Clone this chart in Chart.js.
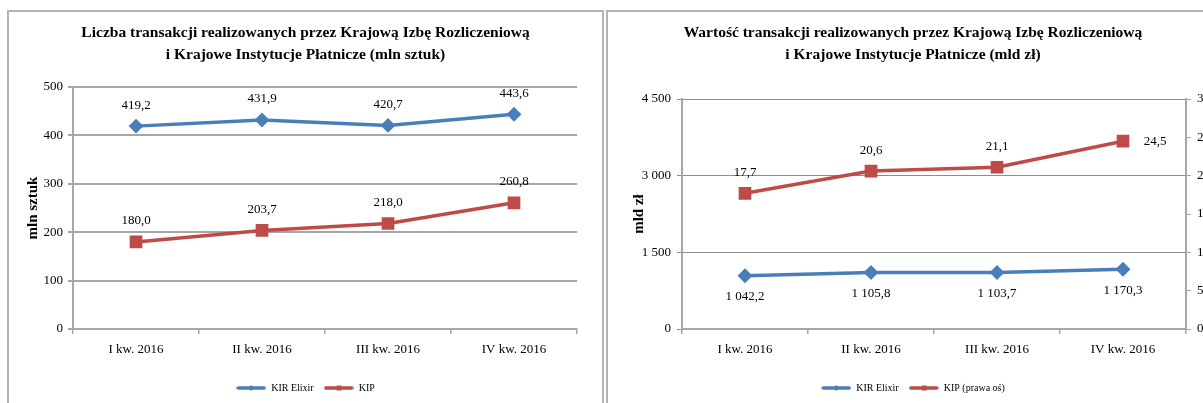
<!DOCTYPE html>
<html>
<head>
<meta charset="utf-8">
<script src="https://cdn.jsdelivr.net/npm/chart.js@4/dist/chart.umd.min.js"></script>
<style>
  html, body { margin: 0; padding: 0; background: #fff; overflow: hidden; width: 1203px; height: 403px; }
  .ramka { position: absolute; top: 10px; height: 400px; border: 2px solid #b4b4b4; box-sizing: border-box; }
  #r1 { left: 7px; width: 597px; }
  #r2 { left: 606px; width: 614px; }
  canvas { display: block; }
</style>
</head>
<body>
<div class="ramka" id="r1"><canvas id="wykresLiczba"></canvas></div>
<div class="ramka" id="r2"><canvas id="wykresWartosc"></canvas></div>
<script>
// dane
const kwartaly = ['I kw. 2016', 'II kw. 2016', 'III kw. 2016', 'IV kw. 2016'];
const liczbaElixir = [419.2, 431.9, 420.7, 443.6];
const liczbaKip = [180.0, 203.7, 218.0, 260.8];
const wartoscElixir = [1042.2, 1105.8, 1103.7, 1170.3];
const wartoscKip = [17.7, 20.6, 21.1, 24.5];

const NIEBIESKI = '#4A7EBB';
const CZERWONY = '#BE4B48';
const SZERYF = "'Liberation Serif', 'Times New Roman', serif";

Chart.defaults.font.family = SZERYF;
Chart.defaults.color = '#000';
Chart.defaults.animation = false;

function formatPl(v, miejsca) {
    var s = v.toFixed(miejsca).replace('.', ',');
    var czesci = s.split(',');
    czesci[0] = czesci[0].replace(/\B(?=(\d{3})+(?!\d))/g, ' ');
    return czesci.join(',');
}

// ikonka legendy: linia z malym znacznikiem
function ikona(kolor, ksztalt) {
    var c = document.createElement('canvas');
    c.width = 30; c.height = 8;
    var g = c.getContext('2d');
    g.strokeStyle = kolor; g.lineWidth = 3.5; g.lineCap = 'round';
    g.beginPath(); g.moveTo(2, 4); g.lineTo(28, 4); g.stroke();
    g.fillStyle = kolor;
    if (ksztalt === 'rect') { g.fillRect(13, 1.5, 5, 5); }
    else { g.beginPath(); g.moveTo(15, 1); g.lineTo(18, 4); g.lineTo(15, 7); g.lineTo(12, 4); g.closePath(); g.fill(); }
    return c;
}

// etykiety danych rysowane nad/pod/obok punktow
const etykietyPlugin = {
    id: 'etykiety',
    afterDatasetsDraw(chart) {
        const ctx = chart.ctx;
        ctx.save();
        ctx.font = '13px ' + SZERYF;
        ctx.fillStyle = '#000';
        ctx.textAlign = 'center';
        ctx.textBaseline = 'middle';
        chart.data.datasets.forEach(function (ds, i) {
            const meta = chart.getDatasetMeta(i);
            meta.data.forEach(function (pt, j) {
                var poz = ds.etykiety[j];
                var x = pt.x, y = pt.y;
                if (poz === 'top') y -= 21;
                else if (poz === 'bottom') y += 21;
                else if (poz === 'right') x += 32;
                ctx.fillText(formatPl(ds.data[j], 1), x, y);
            });
        });
        ctx.restore();
    }
};

function rozmiar(id, ramka) {
    var el = document.getElementById(ramka);
    var cv = document.getElementById(id);
    cv.width = el.clientWidth;
    cv.height = el.clientHeight;
    return cv.getContext('2d');
}

function legenda() {
    return {
        position: 'bottom',
        labels: {
            usePointStyle: true,
            pointStyleWidth: 30,
            padding: 10,
            font: { size: 10 },
            boxHeight: 8,
            generateLabels: function (chart) {
                return chart.data.datasets.map(function (ds, i) {
                    return {
                        text: ds.label,
                        pointStyle: ikona(ds.borderColor, ds.pointStyle),
                        fillStyle: ds.borderColor,
                        strokeStyle: ds.borderColor,
                        lineWidth: 0,
                        hidden: false,
                        datasetIndex: i
                    };
                });
            }
        }
    };
}

function tytul(linie, dol) {
    return {
        display: true,
        text: linie,
        font: { size: 15.5, weight: 'bold', lineHeight: 1.42 },
        padding: { top: 10, bottom: dol },
        color: '#000'
    };
}

function osX() {
    return {
        type: 'category',
        offset: true,
        grid: { offset: true, drawOnChartArea: false, drawTicks: true, tickLength: 5, color: '#a6a6a6', lineWidth: 1.5 },
        border: { color: '#a6a6a6', width: 2 },
        ticks: { font: { size: 13 }, padding: 8, maxRotation: 0 },
        afterFit: function (s) { s.height = 44; }
    };
}

// wykres lewy: liczba transakcji
new Chart(rozmiar('wykresLiczba', 'r1'), {
    type: 'line',
    data: {
        labels: kwartaly,
        datasets: [{
            label: 'KIR Elixir',
            data: liczbaElixir,
            borderColor: NIEBIESKI,
            backgroundColor: NIEBIESKI,
            borderWidth: 3.5,
            pointStyle: 'rectRot',
            pointRadius: 5,
            tension: 0,
            etykiety: ['top', 'top', 'top', 'top']
        }, {
            label: 'KIP',
            data: liczbaKip,
            borderColor: CZERWONY,
            backgroundColor: CZERWONY,
            borderWidth: 3.5,
            pointStyle: 'rect',
            pointRadius: 6.5,
            tension: 0,
            etykiety: ['top', 'top', 'top', 'top']
        }]
    },
    options: {
        responsive: false,
        layout: { padding: { left: 0, right: 0, bottom: 5 } },
        plugins: {
            title: tytul(['Liczba transakcji realizowanych przez Krajową Izbę Rozliczeniową', 'i Krajowe Instytucje Płatnicze (mln sztuk)'], 21),
            legend: legenda(),
            tooltip: { enabled: false }
        },
        scales: {
            x: osX(),
            y: {
                min: 0, max: 500,
                ticks: { stepSize: 100, font: { size: 13 }, padding: 5 },
                grid: { color: '#a6a6a6', lineWidth: 2, tickLength: 5 },
                border: { color: '#a6a6a6', width: 2 },
                title: { display: true, text: 'mln sztuk', font: { size: 15, weight: 'bold' }, padding: { top: 15, bottom: 0 } },
                afterFit: function (s) { s.width = 64; }
            },
            // pusty margines po prawej stronie
            prawy: {
                position: 'right',
                display: true,
                ticks: { display: false },
                grid: { display: false },
                border: { display: false },
                afterFit: function (s) { s.width = 25; }
            }
        }
    },
    plugins: [etykietyPlugin]
});

// wykres prawy: wartosc transakcji
new Chart(rozmiar('wykresWartosc', 'r2'), {
    type: 'line',
    data: {
        labels: kwartaly,
        datasets: [{
            label: 'KIR Elixir',
            data: wartoscElixir,
            yAxisID: 'y',
            borderColor: NIEBIESKI,
            backgroundColor: NIEBIESKI,
            borderWidth: 3.5,
            pointStyle: 'rectRot',
            pointRadius: 5,
            tension: 0,
            etykiety: ['bottom', 'bottom', 'bottom', 'bottom']
        }, {
            label: 'KIP (prawa oś)',
            data: wartoscKip,
            yAxisID: 'y1',
            borderColor: CZERWONY,
            backgroundColor: CZERWONY,
            borderWidth: 3.5,
            pointStyle: 'rect',
            pointRadius: 6.5,
            tension: 0,
            etykiety: ['top', 'top', 'top', 'right']
        }]
    },
    options: {
        responsive: false,
        layout: { padding: { left: 0, right: 0, bottom: 5 } },
        plugins: {
            title: tytul(['Wartość transakcji realizowanych przez Krajową Izbę Rozliczeniową', 'i Krajowe Instytucje Płatnicze (mld zł)'], 33),
            legend: legenda(),
            tooltip: { enabled: false }
        },
        scales: {
            x: osX(),
            y: {
                position: 'left',
                min: 0, max: 4500,
                ticks: { stepSize: 1500, font: { size: 13 }, padding: 6, callback: function (v) { return formatPl(v, 0); } },
                grid: { color: '#8c8c8c', lineWidth: 1, tickLength: 5 },
                border: { color: '#a6a6a6', width: 2 },
                title: { display: true, text: 'mld zł', font: { size: 15, weight: 'bold' }, padding: { top: 22, bottom: 0 } },
                afterFit: function (s) { s.width = 74; }
            },
            y1: {
                position: 'right',
                min: 0, max: 30,
                ticks: { stepSize: 5, font: { size: 13 }, padding: 6 },
                grid: { drawOnChartArea: false, color: '#a6a6a6', tickLength: 5 },
                border: { color: '#a6a6a6', width: 2 },
                afterFit: function (s) { s.width = 32; }
            }
        }
    },
    plugins: [etykietyPlugin]
});
</script>
</body>
</html>
